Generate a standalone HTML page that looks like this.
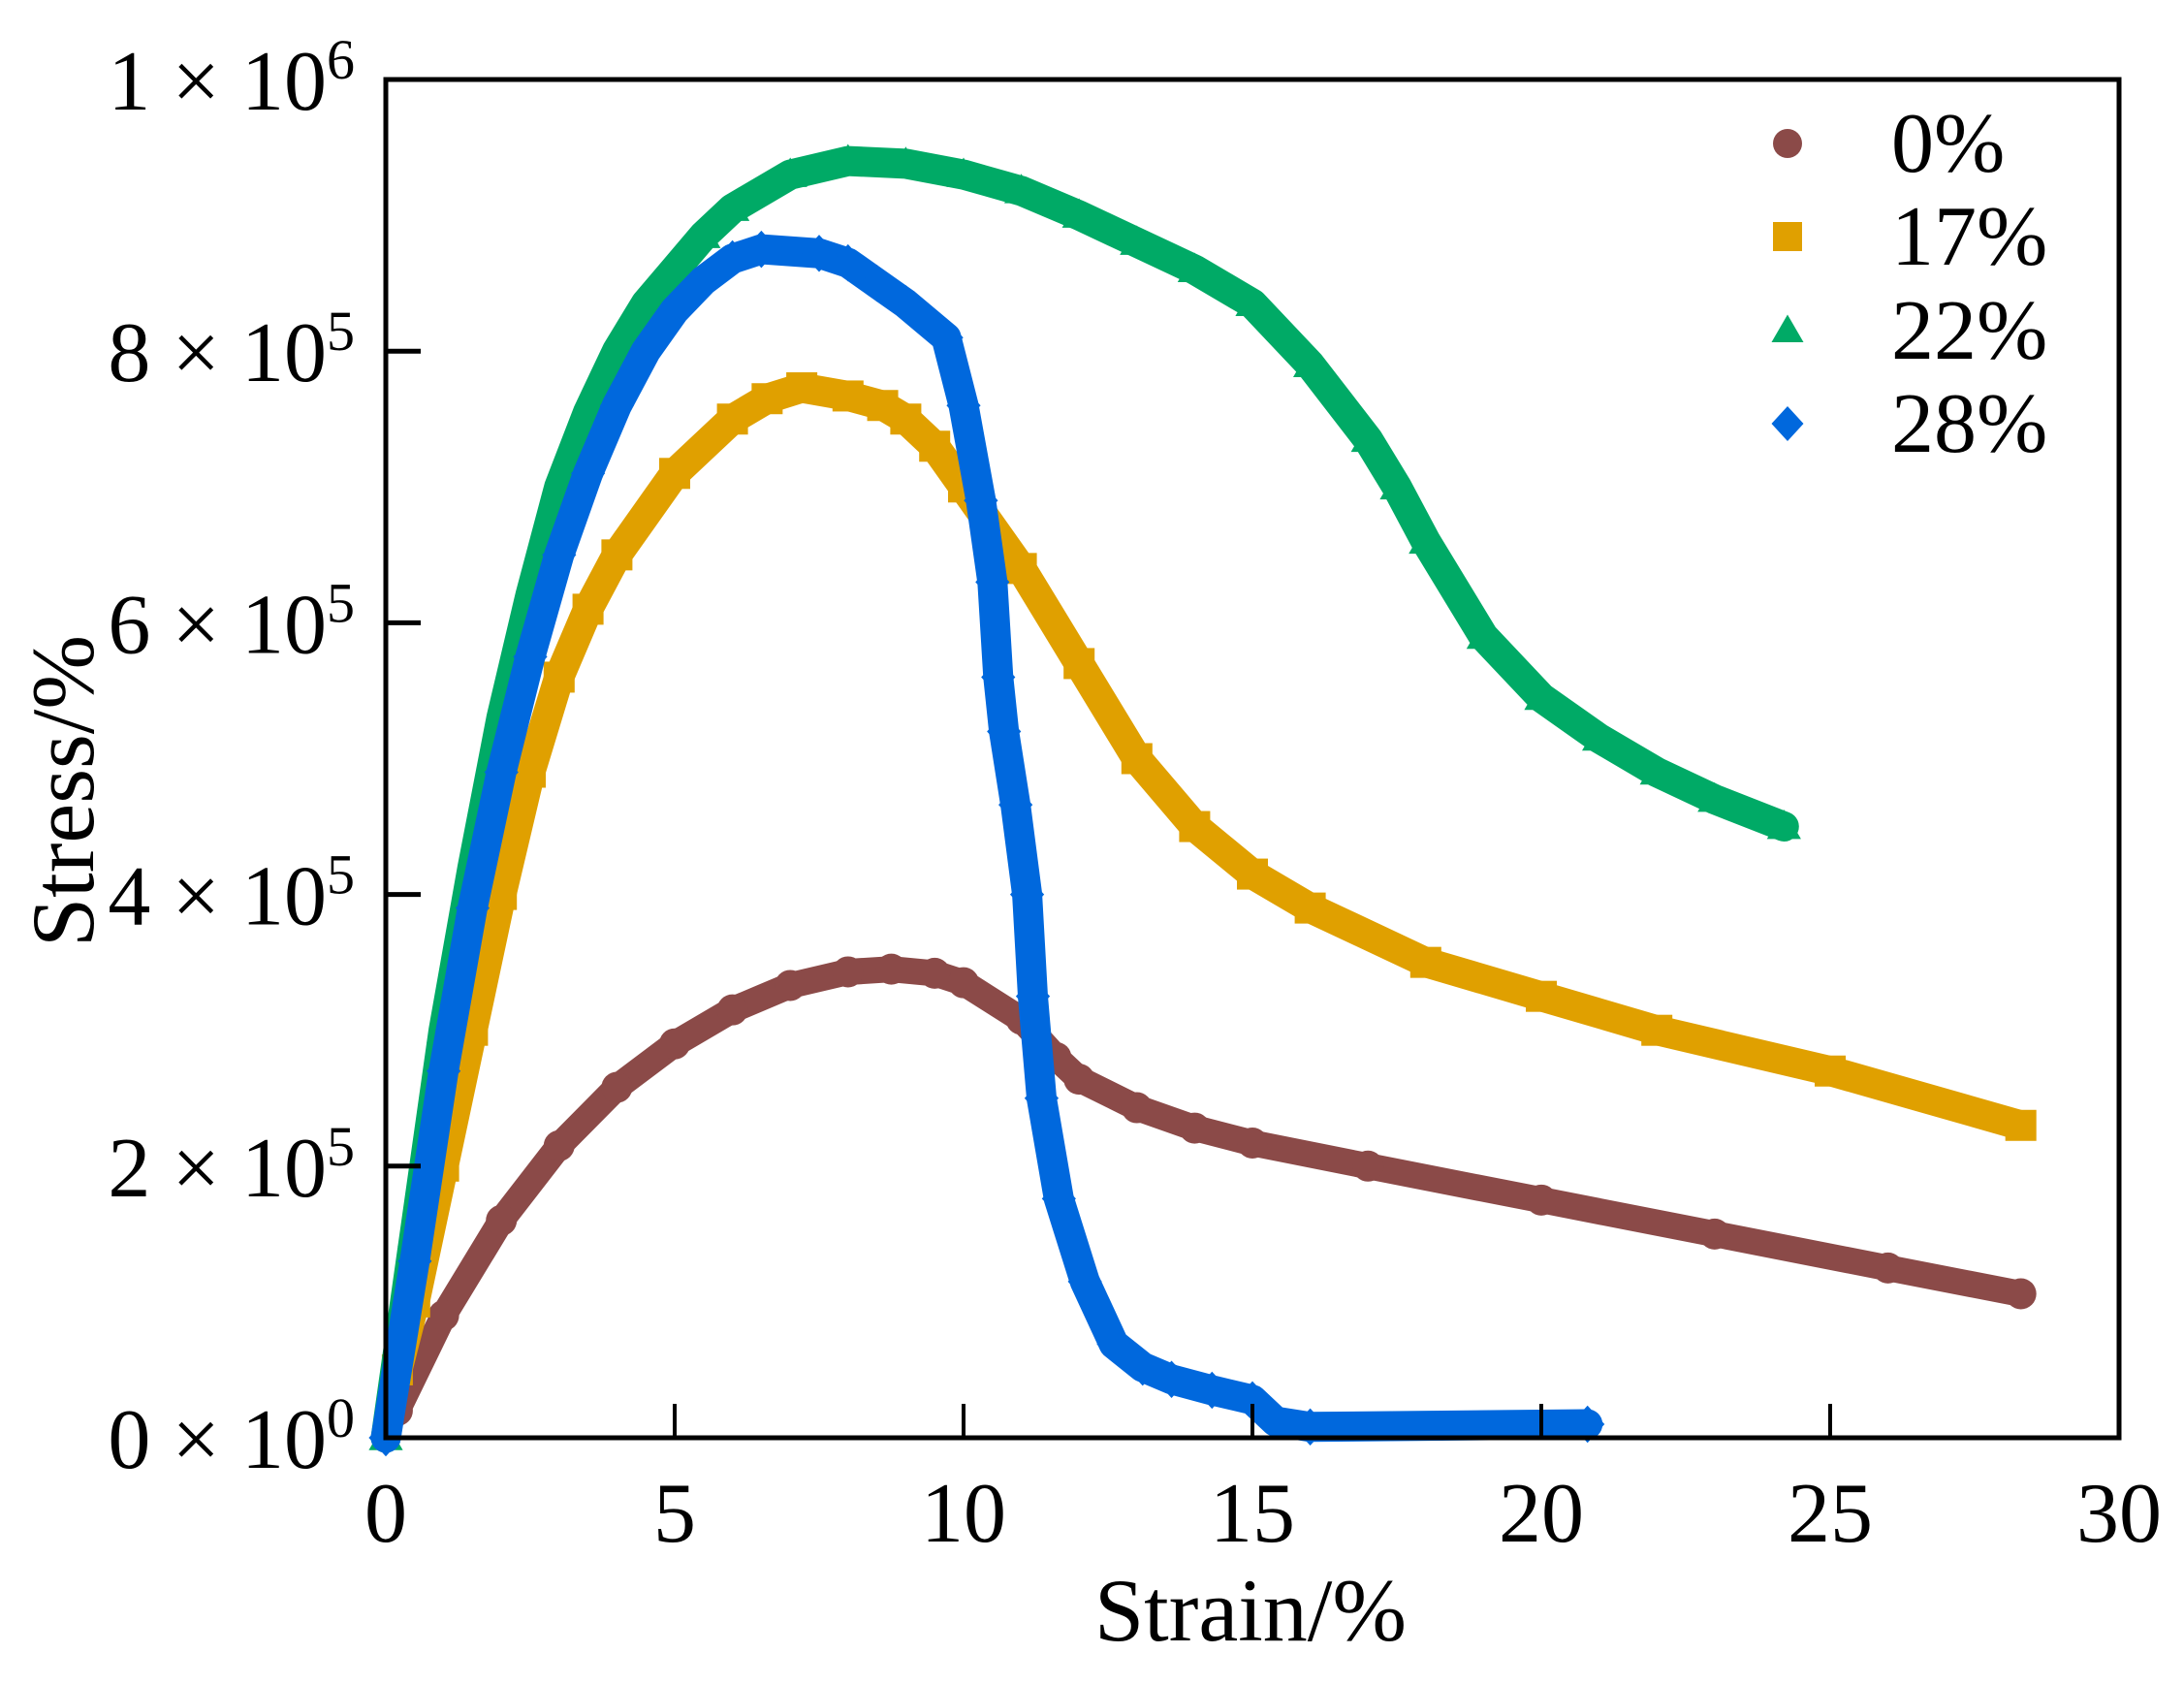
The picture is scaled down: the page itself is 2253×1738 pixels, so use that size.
<!DOCTYPE html>
<html><head><meta charset="utf-8">
<style>
html,body{margin:0;padding:0;background:#fff;}
svg{display:block;font-family:"Liberation Serif",serif;}
</style></head>
<body>
<svg id="chart" width="2253" height="1738" viewBox="0 0 2253 1738" xmlns="http://www.w3.org/2000/svg">
<rect x="0" y="0" width="2253" height="1738" fill="#fff"/>
<g id="series"></g>
<g id="axes"></g>
<g id="legend"></g>
</svg>
<script>
const xTicks = [0, 5, 10, 15, 20, 25, 30];
const yTicks = [0, 2e5, 4e5, 6e5, 8e5, 1e6];
const yMant = ["0", "2", "4", "6", "8", "1"];
const yExp = ["0", "5", "5", "5", "5", "6"];
const seriesNames = ["0%", "17%", "22%", "28%"];

const s0x = [0.2,1,2,3,4,5,6,7,8,8.75,9.5,10,11,11.6,12,13,14,15,17,20,23,26,28.3];
const s0y = [20e3,90e3,160e3,215e3,258e3,290e3,315e3,333e3,343e3,345e3,342e3,335e3,308e3,280e3,264e3,243e3,228e3,217e3,200e3,175e3,150e3,125e3,106e3];

const s1x = [0.2,0.5,1,1.5,2,2.5,3,3.5,4,5,6,6.6,7.2,8,8.6,9,9.5,10,11,12,13,14,15,16,18,20,22,25,28.3];
const s1y = [50e3,100e3,200e3,300e3,400e3,490e3,560e3,610e3,650e3,710e3,750e3,765e3,773e3,767e3,760e3,750e3,730e3,700e3,640e3,570e3,500e3,450e3,415e3,390e3,350e3,325e3,300e3,270e3,230e3];

const s2x = [0,0.5,1,1.5,2,2.5,3,3.5,4,4.5,5,5.5,6,7,8,9,10,11,12,13,14,15,16,17,17.5,18,19,20,21,22,23,24.2];
const s2y = [0,150e3,300e3,420e3,530e3,620e3,700e3,755e3,800e3,835e3,860e3,885e3,905e3,930e3,940e3,938e3,930e3,918e3,900e3,880e3,860e3,835e3,790e3,735e3,700e3,660e3,590e3,545e3,515e3,490e3,470e3,450e3];

const s3x = [0,0.5,1,1.5,2,2.5,3,3.5,4,4.5,5,5.5,6,6.5,7.5,8,8.5,9,9.7,10,10.3,10.5,10.6,10.7,10.9,11.1,11.2,11.35,11.65,12.1,12.6,13.1,13.6,14.3,15,15.4,16,20.8];
const s3y = [0,130e3,270e3,390e3,490e3,575e3,650e3,710e3,760e3,800e3,830e3,852e3,868e3,875e3,872e3,865e3,850e3,835e3,810e3,760e3,690e3,630e3,560e3,520e3,466e3,400e3,325e3,250e3,176e3,115e3,69e3,52e3,43e3,35e3,28e3,12e3,8e3,10e3];

const seriesX = [s0x, s1x, s2x, s3x];
const seriesY = [s0y, s1y, s2y, s3y];
const colors = ["#8B4A48", "#E0A000", "#00AA66", "#0068DD"];
const shapes = ["circle", "square", "triangle", "diamond"];

const X0 = 398, X1 = 2186, Y0 = 1483, Y1 = 82;
const XMAX = 30, YMAX = 1e6;
function sx(v){ return X0 + (X1 - X0) * v / XMAX; }
function sy(v){ return Y0 - (Y0 - Y1) * v / YMAX; }
const NS = "http://www.w3.org/2000/svg";
function mk(tag, attrs, parent){
  const e = document.createElementNS(NS, tag);
  for (const k in attrs) e.setAttribute(k, attrs[k]);
  parent.appendChild(e); return e;
}
function marker(shape, cx, cy, r, color, parent){
  let e;
  if (shape === "circle") e = mk("circle", {cx: cx, cy: cy, r: r, fill: color}, parent);
  else if (shape === "square") e = mk("rect", {x: cx - r, y: cy - r, width: 2*r, height: 2*r, fill: color}, parent);
  else if (shape === "triangle") e = mk("polygon", {points: `${cx},${cy - r*1.1} ${cx + r*1.1},${cy + r*0.8} ${cx - r*1.1},${cy + r*0.8}`, fill: color}, parent);
  else e = mk("polygon", {points: `${cx},${cy - r*1.2} ${cx + r*1.1},${cy} ${cx},${cy + r*1.2} ${cx - r*1.1},${cy}`, fill: color}, parent);
  return e;
}

const gS = document.getElementById("series");
for (let s = 0; s < 4; s++){
  const g = mk("g", {}, gS);
  
  
  const xs = seriesX[s], ys = seriesY[s];
  let d = "";
  for (let i = 0; i < xs.length; i++) d += (i ? "L" : "M") + sx(xs[i]).toFixed(1) + "," + sy(ys[i]).toFixed(1);
  const p = mk("path", {d: d, fill: "none", stroke: colors[s], "stroke-width": s === 0 ? 27 : 31, "stroke-linejoin": "round", "stroke-linecap": "round"}, g);
  
  
  for (let i = 0; i < xs.length; i++){
    const m = marker(shapes[s], sx(xs[i]), sy(ys[i]), 16, colors[s], g);
    
    
  }
}

const gA = document.getElementById("axes");
const frame = mk("rect", {x: X0, y: Y1, width: X1 - X0, height: Y0 - Y1, fill: "none", stroke: "#000", "stroke-width": 5}, gA);


for (let i = 0; i < xTicks.length; i++){
  const x = sx(xTicks[i]);
  if (i > 0 && i < xTicks.length - 1){
    const t = mk("line", {x1: x, y1: Y0, x2: x, y2: Y0 - 35, stroke: "#000", "stroke-width": 4}, gA);
    
    
  }
  const l = mk("text", {x: x, y: 1590, "text-anchor": "middle", "font-size": 88}, gA);
  l.textContent = xTicks[i];
  
  
}
for (let i = 0; i < yTicks.length; i++){
  const y = sy(yTicks[i]);
  if (i > 0 && i < yTicks.length - 1){
    const t = mk("line", {x1: X0, y1: y, x2: X0 + 36, y2: y, stroke: "#000", "stroke-width": 5}, gA);
    
    
  }
  const l = mk("text", {x: 366, y: y + 31, "text-anchor": "end", "font-size": 88}, gA);
  
  
  const a = mk("tspan", {}, l); a.textContent = yMant[i] + " \u00d7 10";
  const b = mk("tspan", {dy: -32, "font-size": 58}, l); b.textContent = yExp[i];
}
const xt = mk("text", {x: 1290, y: 1692, "text-anchor": "middle", "font-size": 92}, gA);
xt.textContent = "Strain/%";


const yt = mk("text", {x: 0, y: 0, "text-anchor": "middle", "font-size": 92, transform: "translate(96,816) rotate(-90)"}, gA);
yt.textContent = "Stress/%";



const gL = document.getElementById("legend");
const legY = [148, 244, 341, 437];
for (let s = 0; s < 4; s++){
  const g = mk("g", {}, gL);
  
  
  marker(shapes[s], 1844, legY[s], 15, colors[s], g);
  const t = mk("text", {x: 1951, y: legY[s] + 29, "font-size": 88}, g);
  t.textContent = seriesNames[s];
}
</script>
</body></html>
